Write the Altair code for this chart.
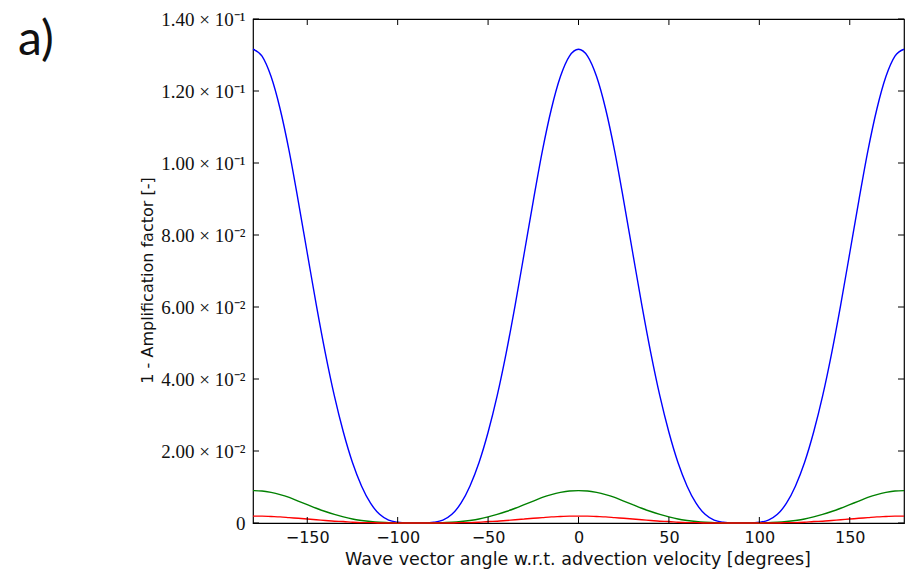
import json
import altair as alt
import pandas as pd

# Wave vector angle samples from 0 to 90 degrees (curves are symmetric about 0 and 90)
half_angles = [0, 5, 10, 15, 20, 25, 30, 35, 40, 45, 50, 55, 60, 65, 70, 75, 80, 85, 90]

# 1 - amplification factor for the three cases
curve_blue = [0.1316, 0.1297, 0.1240, 0.1150, 0.1033, 0.0895, 0.0750, 0.0606, 0.0472,
              0.0353, 0.0252, 0.0168, 0.0103, 0.0055, 0.0024, 0.0008, 0.0002, 0.0000, 0.0000]
curve_green = [0.0090, 0.0089, 0.0085, 0.0079, 0.0071, 0.0061, 0.0051, 0.0041, 0.0032,
               0.0024, 0.0017, 0.0011, 0.0007, 0.0004, 0.0002, 0.0001, 0.0000, 0.0000, 0.0000]
curve_red = [0.0019, 0.0019, 0.0018, 0.0017, 0.0015, 0.0013, 0.0011, 0.0009, 0.0007,
             0.0005, 0.0004, 0.0002, 0.0001, 0.0001, 0.0000, 0.0000, 0.0000, 0.0000, 0.0000]

x_ticks = [-150, -100, -50, 0, 50, 100, 150]
y_ticks = [0, 0.02, 0.04, 0.06, 0.08, 0.10, 0.12, 0.14]
y_tick_labels = ["0", "2.00 × 10⁻²", "4.00 × 10⁻²", "6.00 × 10⁻²", "8.00 × 10⁻²",
                 "1.00 × 10⁻¹", "1.20 × 10⁻¹", "1.40 × 10⁻¹"]


def full_period(values):
    """Extend 0..90 samples to the full -180..180 range using the curve symmetry."""
    ang, val = [], []
    quarter = list(zip(half_angles, values))
    upper = quarter + [(180 - a, v) for a, v in reversed(quarter[:-1])]
    for a, v in reversed(upper[1:]):
        ang.append(-a)
        val.append(v)
    for a, v in upper:
        ang.append(a)
        val.append(v)
    return pd.DataFrame({"angle": ang, "value": val})


W, H = 651, 504
xscale = alt.Scale(domain=[-180, 180], nice=False, zero=False)
yscale = alt.Scale(domain=[0, 0.14], nice=False)

label_expr = json.dumps(y_tick_labels, ensure_ascii=False) + "[round(datum.value * 50)]"

x_axis = alt.Axis(values=x_ticks, format="d", title="Wave vector angle w.r.t. advection velocity [degrees]",
                  ticks=False, domain=False, grid=False,
                  labelFont="DejaVu Sans", labelFontSize=16, labelColor="#111111", labelPadding=6,
                  titleFont="DejaVu Sans", titleFontSize=17.5, titleFontWeight="normal", titleColor="#111111",
                  titleX=324.5, titleY=41, titleBaseline="alphabetic", titleAnchor="middle")
y_axis = alt.Axis(values=y_ticks, labelExpr=label_expr, title="1 - Amplification factor [-]",
                  ticks=False, domain=False, grid=False,
                  labelFont="Liberation Serif", labelFontSize=19, labelColor="#111111", labelPadding=8,
                  titleFont="DejaVu Sans", titleFontSize=16, titleFontWeight="normal", titleColor="#111111",
                  titleX=-101, titleY=261, titleAngle=270, titleBaseline="alphabetic", titleAlign="center")

X = alt.X("angle:Q", scale=xscale, axis=x_axis)
Y = alt.Y("value:Q", scale=yscale, axis=y_axis)


def curve(values, color):
    return alt.Chart(full_period(values)).mark_line(
        color=color, strokeWidth=1.4, interpolate="monotone"
    ).encode(x=X, y=Y)


blue = curve(curve_blue, "#0000ff")
green = curve(curve_green, "#008000")
red = curve(curve_red, "#ff0000")

# inward tick marks on all four sides
xt = pd.DataFrame({"angle": x_ticks})
yt = pd.DataFrame({"value": y_ticks})
tick_style = dict(color="black", strokeWidth=1)
xt_bottom = alt.Chart(xt).mark_rule(**tick_style).encode(x=X, y=alt.value(H), y2=alt.value(H - 6))
xt_top = alt.Chart(xt).mark_rule(**tick_style).encode(x=X, y=alt.value(0), y2=alt.value(6))
yt_left = alt.Chart(yt).mark_rule(**tick_style).encode(y=Y, x=alt.value(0), x2=alt.value(6))
yt_right = alt.Chart(yt).mark_rule(**tick_style).encode(y=Y, x=alt.value(W), x2=alt.value(W - 6))

panel_label = alt.Chart(pd.DataFrame({"t": ["a)"]})).mark_text(
    font="Lato", fontSize=48, align="left", baseline="alphabetic", color="#111111"
).encode(text="t:N", x=alt.value(18 - 253), y=alt.value(55 - 19))

chart = alt.layer(blue, green, red, xt_bottom, xt_top, yt_left, yt_right, panel_label).properties(
    width=W, height=H,
    padding={"left": 253, "top": 19, "right": 2, "bottom": 53},
    autosize=alt.AutoSizeParams(type="none"),
    background="white",
).configure_view(stroke="black", strokeWidth=1.2)

chart.save("out.html", embed_options={"renderer": "svg", "actions": False})
